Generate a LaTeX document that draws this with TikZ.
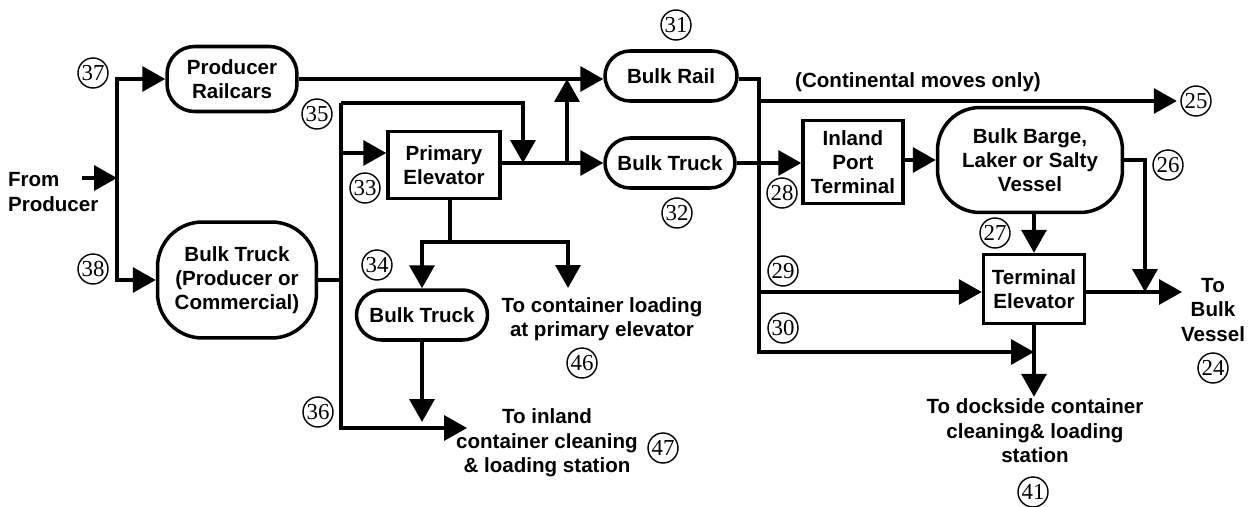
\documentclass[tikz,border=0pt]{standalone}
\usepackage{fontspec}
\setmainfont{Liberation Sans}
\newfontfamily\numfont{Liberation Serif}
\usetikzlibrary{arrows.meta, calc}

\tikzset{
  flow/.style={line width=2pt, -{Triangle[length=0.46cm, width=0.5cm]}},
  plain/.style={line width=2pt},
  roundbox/.style={draw, line width=2pt, rounded corners=0.5cm, align=center, inner sep=1pt,
                   font=\bfseries\fontsize{11.7}{13.6}\selectfont},
  squarebox/.style={draw, line width=2pt, align=center, inner sep=1pt,
                    font=\bfseries\fontsize{11.7}{13.6}\selectfont},
  tag/.style={align=center, inner sep=1pt, font=\bfseries\fontsize{11.7}{14}\selectfont},
  num/.style={draw, circle, line width=0.8pt, minimum size=0.6cm, inner sep=0pt,
              font=\numfont\fontsize{13}{13}\selectfont}
}

\begin{document}
\begin{tikzpicture}[x=0.02cm, y=-0.02cm]
  \useasboundingbox (0,0) rectangle (1248,507);

  % boxes
  \node[roundbox, minimum width=2.6cm, minimum height=1.3cm, rounded corners=0.55cm] (railcars) at (232,79) {Producer\\Railcars};
  \node[roundbox, minimum width=3.18cm, minimum height=2.32cm, rounded corners=0.9cm] (truckP) at (237,280) {Bulk Truck\\(Producer or\\Commercial)};
  \node[roundbox, minimum width=2.64cm, minimum height=1cm] (bulkrail) at (671,76) {Bulk Rail};
  \node[squarebox, minimum width=2.24cm, minimum height=1.34cm] (primary) at (444,165) {Primary\\Elevator};
  \node[roundbox, minimum width=2.6cm, minimum height=1cm] (bulktruck) at (670,163) {Bulk Truck};
  \node[roundbox, minimum width=2.62cm, minimum height=1cm] (truck2) at (422,315) {Bulk Truck};
  \node[squarebox, minimum width=2cm, minimum height=1.66cm] (inland) at (853,162) {Inland\\Port\\Terminal};
  \node[roundbox, minimum width=3.7cm, minimum height=2.1cm, rounded corners=0.85cm] (barge) at (1030,160) {Bulk Barge,\\Laker or Salty\\Vessel};
  \node[squarebox, minimum width=2.02cm, minimum height=1.38cm] (terminal) at (1034,289) {Terminal\\Elevator};

  % texts
  \node[tag, align=left, anchor=west] (from) at (6,192) {From\\Producer};
  \node[tag] (cont) at (918,82) {(Continental moves only)};
  \node[tag] (tocont) at (602,319) {To container loading\\at primary elevator};
  \node[tag] (toinland) at (547,443) {To inland\\container cleaning\\\& loading station};
  \node[tag] (todock) at (1035,431) {To dockside container\\cleaning\& loading\\station};
  \node[tag] (tobulk) at (1213,310) {To\\Bulk\\Vessel};

  % numbers
  \node[num] (n37) at (93,73) {37};
  \node[num] (n38) at (93,269) {38};
  \node[num] (n35) at (317,114) {35};
  \node[num] (n33) at (365,188) {33};
  \node[num] (n31) at (676,25) {31};
  \node[num] (n32) at (677,213) {32};
  \node[num] (n34) at (377,265) {34};
  \node[num] (n46) at (582,363) {46};
  \node[num] (n36) at (318,412) {36};
  \node[num] (n47) at (663,448) {47};
  \node[num] (n25) at (1196,101) {25};
  \node[num] (n28) at (782,193) {28};
  \node[num] (n26) at (1168,165) {26};
  \node[num] (n27) at (995,233) {27};
  \node[num] (n29) at (783,271) {29};
  \node[num] (n30) at (783,328) {30};
  \node[num] (n24) at (1213,368) {24};
  \node[num] (n41) at (1033,492) {41};

  % junctions
  \coordinate (fromtail) at (82,178);
  \coordinate (fork) at (117,178);
  \coordinate (bus) at (341,103);
  \coordinate (drop) at (523,103);
  \coordinate (in33) at (341,153);
  \coordinate (inlandtip) at (467,428);
  \coordinate (up) at (567,163);
  \coordinate (split) at (450,242);
  \coordinate (conttip) at (568,288);
  \coordinate (trunk) at (759,352);
  \coordinate (j26) at (1145,292);
  \coordinate (bulktip) at (1182,292);

  % connectors
  \draw[flow] (fromtail) -- (fork);
  \draw[flow] (fork) |- (railcars.west);
  \draw[flow] (fork) |- (truckP.west);
  \draw[flow] (railcars.east) -- (railcars.east -| bulkrail.west);
  \draw[plain] (truckP.east) -- (truckP.east -| bus);
  \draw[flow] (bus) |- (inlandtip);
  \draw[flow] (bus) -- (drop) -- (drop |- up);
  \draw[flow] (in33) -- (in33 -| primary.west);
  \draw[flow] (primary.east |- up) -- (bulktruck.west);
  \draw[flow] (up) -- (up |- railcars.east);
  \draw[plain] (split |- primary.south) -- (split);
  \draw[flow] (split) -| (truck2.north);
  \draw[flow] (split) -| (conttip);
  \draw[flow] (truck2.south) -- ($(truck2.south |- inlandtip)+(0,-6)$);
  \draw[flow] (bulkrail.east |- railcars.east) -| (trunk) -- (trunk -| terminal.south);
  \draw[flow, shorten >=2pt] (trunk |- n25) -- (n25.west);
  \draw[flow] (bulktruck.east) -- (bulktruck.east -| inland.west);
  \draw[flow] (inland.east |- barge.west) -- (barge.west);
  \draw[flow] (barge.east) -| (j26);
  \draw[flow] (barge.south -| terminal.north) -- (terminal.north);
  \draw[flow] (trunk |- j26) -- (j26 -| terminal.west);
  \draw[flow] (j26 -| terminal.east) -- (bulktip);
  \draw[flow] (terminal.south) -- (terminal.south |- todock.north);
\end{tikzpicture}
\end{document}
